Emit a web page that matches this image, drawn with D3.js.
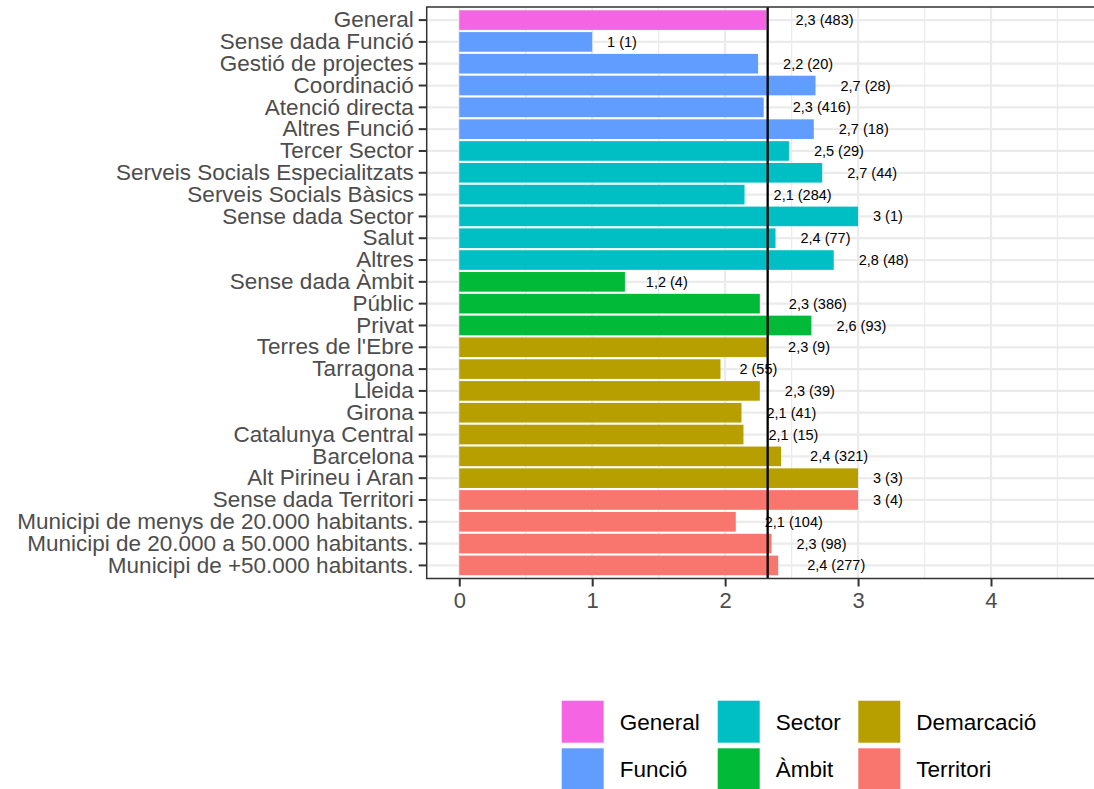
<!DOCTYPE html>
<html>
<head>
<meta charset="utf-8">
<script src="https://cdn.jsdelivr.net/npm/d3@7"></script>
<style>
  html, body { margin: 0; padding: 0; background: #fff; }
  svg { display: block; font-family: "Liberation Sans", Arial, Helvetica, sans-serif; }
</style>
</head>
<body>
<svg id="chart" width="1094" height="789"></svg>
<script>
// ---- data ----
const categories = [
  "General", "Sense dada Funció", "Gestió de projectes", "Coordinació", "Atenció directa", "Altres Funció",
  "Tercer Sector", "Serveis Socials Especialitzats", "Serveis Socials Bàsics", "Sense dada Sector", "Salut", "Altres",
  "Sense dada Àmbit", "Públic", "Privat",
  "Terres de l'Ebre", "Tarragona", "Lleida", "Girona", "Catalunya Central", "Barcelona", "Alt Pirineu i Aran",
  "Sense dada Territori", "Municipi de menys de 20.000 habitants.", "Municipi de 20.000 a 50.000 habitants.", "Municipi de +50.000 habitants."
];
const groups = [
  "General", "Funció", "Funció", "Funció", "Funció", "Funció",
  "Sector", "Sector", "Sector", "Sector", "Sector", "Sector",
  "Àmbit", "Àmbit", "Àmbit",
  "Demarcació", "Demarcació", "Demarcació", "Demarcació", "Demarcació", "Demarcació", "Demarcació",
  "Territori", "Territori", "Territori", "Territori"
];
const means = [
  2.311, 1.0, 2.248, 2.68, 2.29, 2.667,
  2.48, 2.73, 2.146, 3.0, 2.379, 2.817,
  1.246, 2.261, 2.649,
  2.316, 1.965, 2.261, 2.123, 2.138, 2.421, 3.0,
  3.0, 2.08, 2.349, 2.399
];
const counts = [
  483, 1, 20, 28, 416, 18,
  29, 44, 284, 1, 77, 48,
  4, 386, 93,
  9, 55, 39, 41, 15, 321, 3,
  4, 104, 98, 277
];
const overallMean = 2.32;
const xTicks = [0, 1, 2, 3, 4];
const xMinor = [0.5, 1.5, 2.5, 3.5, 4.5];
const legendGroups = ["General", "Funció", "Sector", "Àmbit", "Demarcació", "Territori"];
const legendColors = ["#F564E3", "#619CFF", "#00BFC4", "#00BA38", "#B79F00", "#F8766D"];

// ---- layout ----
const svg = d3.select("#chart");
const panel = { left: 426.7, top: 7, bottom: 578.5, right: 1100 };

const x = d3.scaleLinear().domain([-0.245, 4.82]).range([panel.left, panel.right]);
const y = d3.scaleBand().domain(categories).range([panel.top, panel.bottom])
  .paddingInner(0.1).paddingOuter(0.15);
const color = d3.scaleOrdinal().domain(legendGroups).range(legendColors);

const fmt = v => {
  const r = Math.round(v * 10) / 10;
  return (Number.isInteger(r) ? String(r) : r.toFixed(1)).replace(".", ",");
};

const rows = categories.map((c, i) => ({ cat: c, group: groups[i], mean: means[i], n: counts[i] }));

// panel background
svg.append("rect").attr("x", panel.left).attr("y", panel.top)
  .attr("width", panel.right - panel.left).attr("height", panel.bottom - panel.top)
  .attr("fill", "#fff");

const grid = svg.append("g");
grid.selectAll("line.minor").data(xMinor).join("line")
  .attr("x1", d => x(d)).attr("x2", d => x(d))
  .attr("y1", panel.top).attr("y2", panel.bottom)
  .attr("stroke", "#EBEBEB").attr("stroke-width", 1.3);
grid.selectAll("line.majx").data(xTicks).join("line")
  .attr("x1", d => x(d)).attr("x2", d => x(d))
  .attr("y1", panel.top).attr("y2", panel.bottom)
  .attr("stroke", "#EBEBEB").attr("stroke-width", 2.2);
grid.selectAll("line.majy").data(categories).join("line")
  .attr("x1", panel.left).attr("x2", panel.right)
  .attr("y1", d => y(d) + y.bandwidth() / 2).attr("y2", d => y(d) + y.bandwidth() / 2)
  .attr("stroke", "#EBEBEB").attr("stroke-width", 2.2);

// bars
svg.append("g").selectAll("rect").data(rows).join("rect")
  .attr("x", x(0))
  .attr("y", d => y(d.cat))
  .attr("width", d => x(d.mean) - x(0))
  .attr("height", y.bandwidth())
  .attr("fill", d => color(d.group));

// value labels (hjust = -0.5 style)
const lab = svg.append("g").selectAll("text").data(rows).join("text")
  .attr("y", d => y(d.cat) + y.bandwidth() / 2)
  .attr("dy", "0.35em")
  .attr("font-size", "14.5px")
  .attr("fill", "#000")
  .text(d => `${fmt(d.mean)} (${d.n})`);
lab.each(function(d) {
  const w = this.getComputedTextLength();
  d3.select(this).attr("x", x(d.mean) + 0.5 * w);
});

// mean line
svg.append("line")
  .attr("x1", x(overallMean)).attr("x2", x(overallMean))
  .attr("y1", panel.top).attr("y2", panel.bottom)
  .attr("stroke", "#000").attr("stroke-width", 2.3);

// panel border
svg.append("rect").attr("x", panel.left).attr("y", panel.top)
  .attr("width", panel.right - panel.left).attr("height", panel.bottom - panel.top)
  .attr("fill", "none").attr("stroke", "#333").attr("stroke-width", 1.5);

// y axis
const yAxis = svg.append("g").attr("transform", `translate(${panel.left},0)`)
  .call(d3.axisLeft(y).tickSize(8).tickPadding(5));
yAxis.select(".domain").remove();
yAxis.selectAll(".tick line").attr("stroke", "#333").attr("stroke-width", 2);
yAxis.selectAll(".tick text").attr("font-size", "22.5px").attr("fill", "#4D4D4D")
  .attr("font-family", "Liberation Sans, Arial, sans-serif");

// x axis
const xAxis = svg.append("g").attr("transform", `translate(0,${panel.bottom})`)
  .call(d3.axisBottom(x).tickValues(xTicks).tickFormat(d3.format("d")).tickSize(8).tickPadding(6));
xAxis.select(".domain").remove();
xAxis.selectAll(".tick line").attr("stroke", "#333").attr("stroke-width", 2);
xAxis.selectAll(".tick text").attr("font-size", "22px").attr("fill", "#4D4D4D")
  .attr("font-family", "Liberation Sans, Arial, sans-serif");

// legend (3 columns x 2 rows, filled by column)
const colX = [561.7, 717.7, 858.3];
const rowY = [700.7, 748.3];
const key = 42;
const leg = svg.append("g").selectAll("g").data(legendGroups).join("g")
  .attr("transform", (d, i) => `translate(${colX[Math.floor(i / 2)]},${rowY[i % 2]})`);
leg.append("rect").attr("width", key).attr("height", key).attr("fill", d => color(d));
leg.append("text").attr("x", key + 16).attr("y", key / 2).attr("dy", "0.35em")
  .attr("font-size", "22.5px").attr("fill", "#000").text(d => d);
</script>
</body>
</html>
